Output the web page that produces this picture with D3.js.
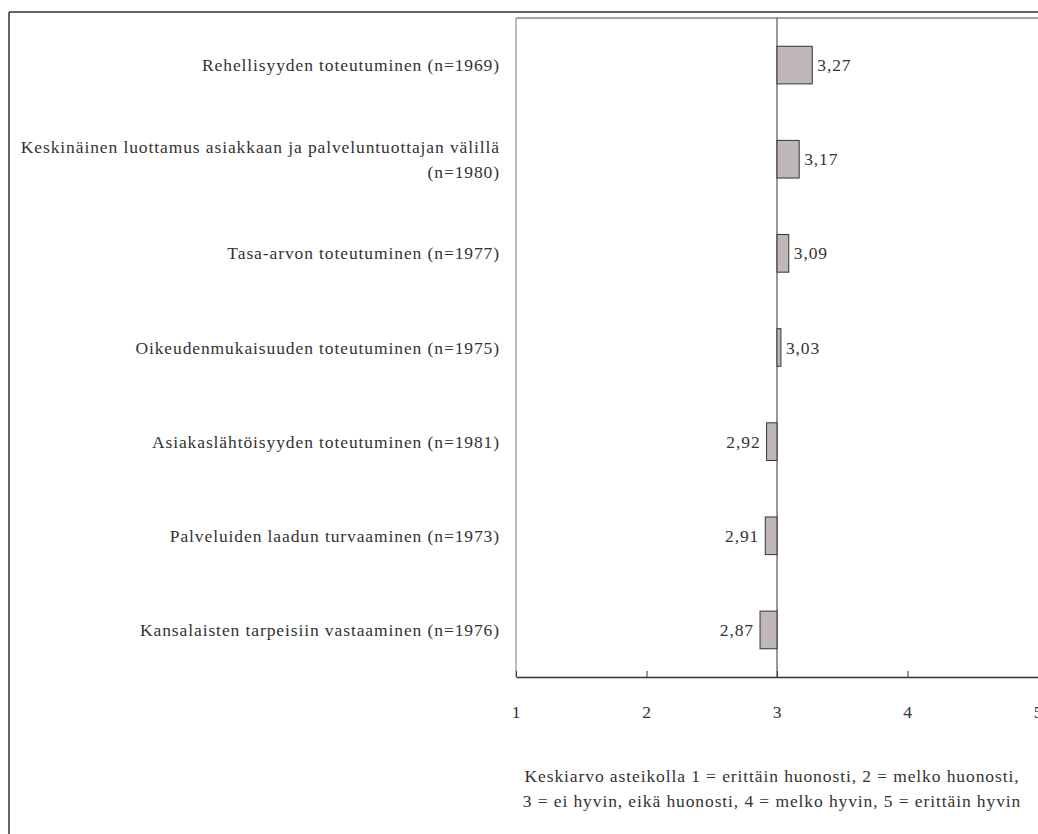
<!DOCTYPE html>
<html>
<head>
<meta charset="utf-8">
<script src="https://cdn.jsdelivr.net/npm/d3@7/dist/d3.min.js"></script>
<style>
  html, body { margin: 0; padding: 0; background: #fff; }
</style>
</head>
<body>
<svg id="chart" width="1038" height="834"></svg>
<script>
// Survey items (category labels, lines split where wrapped)
const categories = [
  ["Rehellisyyden toteutuminen (n=1969)"],
  ["Keskinäinen luottamus asiakkaan ja palveluntuottajan välillä", "(n=1980)"],
  ["Tasa-arvon toteutuminen (n=1977)"],
  ["Oikeudenmukaisuuden toteutuminen (n=1975)"],
  ["Asiakaslähtöisyyden toteutuminen (n=1981)"],
  ["Palveluiden laadun turvaaminen (n=1973)"],
  ["Kansalaisten tarpeisiin vastaaminen (n=1976)"]
];
// Mean scores on a 1–5 scale
const values = [3.27, 3.17, 3.09, 3.03, 2.92, 2.91, 2.87];
const tickValues = [1, 2, 3, 4, 5];
const noteLines = [
  "Keskiarvo asteikolla 1 = erittäin huonosti, 2 = melko huonosti,",
  "3 = ei hyvin, eikä huonosti, 4 = melko hyvin, 5 = erittäin hyvin"
];
const baseline = 3;

const FONT = "'Liberation Serif', 'Times New Roman', Tinos, 'DejaVu Serif', serif";
const FS = 17.5;
const LS = 0.9;

const svg = d3.select("#chart")
  .attr("font-family", FONT)
  .style("letter-spacing", LS + "px");
const fmt = v => d3.format(".2f")(v).replace(".", ",");

// Outer frame
svg.append("line").attr("x1", 9).attr("y1", 12).attr("x2", 1038).attr("y2", 12)
  .attr("stroke", "#333").attr("stroke-width", 1.5);
svg.append("line").attr("x1", 9).attr("y1", 12).attr("x2", 9).attr("y2", 834)
  .attr("stroke", "#333").attr("stroke-width", 1.5);

const plot = { left: 516, right: 1038, top: 18, bottom: 677 };

const x = d3.scaleLinear().domain([1, 5]).range([plot.left, plot.right]);
const y = d3.scaleBand().domain(d3.range(categories.length))
  .range([plot.top, plot.bottom]).paddingInner(0.6).paddingOuter(0.3);

// Plot area frame (top and left edges)
svg.append("line").attr("x1", plot.left).attr("y1", plot.top).attr("x2", plot.right).attr("y2", plot.top)
  .attr("stroke", "#aaa3a3").attr("stroke-width", 2);
svg.append("line").attr("x1", plot.left).attr("y1", plot.top).attr("x2", plot.left).attr("y2", plot.bottom)
  .attr("stroke", "#aaa3a3").attr("stroke-width", 1.5);

// Baseline at the scale midpoint
svg.append("line").attr("x1", x(baseline)).attr("x2", x(baseline))
  .attr("y1", plot.top).attr("y2", plot.bottom)
  .attr("stroke", "#333").attr("stroke-width", 1);

// Bars from the baseline
svg.append("g").selectAll("rect").data(values).join("rect")
  .attr("x", d => Math.min(x(d), x(baseline)))
  .attr("width", d => Math.abs(x(d) - x(baseline)))
  .attr("y", (d, i) => y(i))
  .attr("height", y.bandwidth())
  .attr("fill", "#c0b8b8")
  .attr("stroke", "#333")
  .attr("stroke-width", 1);

// Value labels
svg.append("g").selectAll("text").data(values).join("text")
  .attr("x", d => d >= baseline ? x(d) + 5 : x(d) - 6)
  .attr("y", (d, i) => y(i) + y.bandwidth() / 2)
  .attr("dy", "0.35em")
  .attr("text-anchor", d => d >= baseline ? "start" : "end")
  .attr("font-size", FS)
  .attr("fill", "#333")
  .text(fmt);

// Category labels
const catG = svg.append("g");
categories.forEach((lines, i) => {
  const cy = y(i) + y.bandwidth() / 2;
  const lh = 25;
  const t = catG.append("text")
    .attr("x", 500)
    .attr("text-anchor", "end")
    .attr("font-size", FS)
    .attr("fill", "#333");
  lines.forEach((ln, j) => {
    t.append("tspan").attr("x", 500)
      .attr("y", cy - (lines.length - 1) * lh / 2 + j * lh)
      .attr("dy", "0.35em").text(ln);
  });
});

// X axis
const axis = d3.axisBottom(x).tickValues(tickValues).tickSize(0).tickPadding(0).tickFormat(d3.format("d"));
const ax = svg.append("g").attr("transform", `translate(0,${plot.bottom})`).call(axis)
  .attr("font-family", FONT);
ax.select(".domain").attr("stroke", "#333").attr("stroke-width", 1.5);
ax.selectAll(".tick line").remove();
ax.selectAll(".tick").append("line").attr("y1", 0).attr("y2", -6).attr("stroke", "#333");
ax.selectAll(".tick text").attr("y", 35).attr("dy", "0.35em")
  .attr("font-size", FS).attr("fill", "#333");

// Scale note
svg.append("g").selectAll("text").data(noteLines).join("text")
  .attr("x", 772)
  .attr("y", (d, i) => 776 + i * 25)
  .attr("dy", "0.35em")
  .attr("text-anchor", "middle")
  .attr("font-size", FS)
  .attr("fill", "#333")
  .text(d => d);
</script>
</body>
</html>
